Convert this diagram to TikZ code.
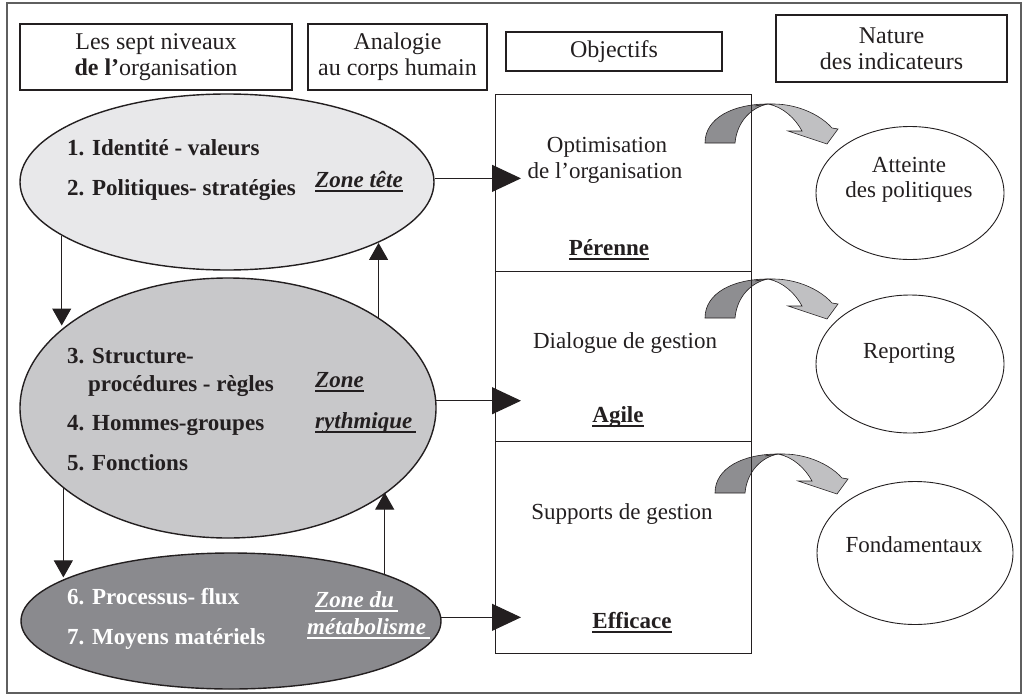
\documentclass[tikz,border=0pt]{standalone}
\usepackage{fontspec}
\setmainfont{Liberation Serif}
\usetikzlibrary{arrows.meta,shapes.geometric}

\definecolor{ink}{RGB}{35,31,32}
\definecolor{framegray}{RGB}{95,95,95}
\definecolor{lvlA}{RGB}{232,232,234}
\definecolor{lvlB}{RGB}{200,200,202}
\definecolor{lvlC}{RGB}{138,138,142}
\definecolor{arcDark}{RGB}{142,142,145}
\definecolor{arcLight}{RGB}{192,192,194}

% thick underline drawn just below the baseline
\newcommand\thickund[1]{\setbox0\hbox{#1}\leavevmode\rlap{\raisebox{-4.5pt}{\rule{\wd0}{1.8pt}}}\box0}

\tikzset{
  hdrbox/.style={draw=ink, line width=1.1pt, rectangle, inner sep=0pt, align=center,
                 font=\fontsize{24}{26}\selectfont},
  objbox/.style={draw=ink, line width=1.2pt, rectangle, inner sep=0pt, anchor=north west},
  level/.style={draw=ink, line width=1.4pt, ellipse, inner sep=0pt},
  indic/.style={draw=ink, line width=0.9pt, ellipse, inner sep=0pt, fill=white},
  lbl/.style={inner sep=0pt, anchor=base west, font=\fontsize{23}{27}\selectfont\bfseries},
  zone/.style={inner sep=0pt, anchor=base west, font=\fontsize{23}{27}\selectfont\bfseries\itshape},
  ctext/.style={inner sep=0pt, anchor=base, font=\fontsize{23}{27}\selectfont},
  varr/.style={draw=ink, line width=1pt, -{Triangle[length=17pt,width=19pt]}},
  harr/.style={draw=ink, line width=1pt, -{Triangle[length=29pt,width=27pt]}, shorten >=-26pt},
  pics/curvedarrow/.style={code={
    \filldraw[fill=arcDark, draw=ink, line width=0.6pt]
      (0,0) .. controls (0,-25) and (28,-39) .. (63,-39)
      .. controls (47,-36) and (32,-22) .. (30,0) -- cycle;
    \filldraw[fill=arcLight, draw=ink, line width=0.6pt]
      (50,-37) .. controls (80,-44) and (112,-32) .. (127,-15)
      -- (133,-14) -- (122,1) -- (83,-12) -- (97,-12)
      .. controls (90,-25) and (78,-36) .. (63,-39) -- cycle;
  }}
}

\begin{document}
\begin{tikzpicture}[x=1pt, y=-1pt, text=ink]
\useasboundingbox (0,0) rectangle (1027,696);

% outer frame
\draw[framegray, line width=1.5pt] (7,3) rectangle (1021,693);

% column headers
\node[hdrbox, minimum width=272, minimum height=66] (h1) at (156,57)
  {Les sept niveaux\\ \textbf{de l’}organisation};
\node[hdrbox, minimum width=179, minimum height=66] (h2) at (397.5,57)
  {Analogie\\ au corps humain};
\node[hdrbox, minimum width=216, minimum height=39] (h3) at (614,51.5) {Objectifs};
\node[hdrbox, minimum width=231, minimum height=67] (h4) at (891.5,48.5)
  {Nature\\ des indicateurs};

% curved arrows from objectives to indicators
\pic at (705,143) {curvedarrow};
\pic at (705,318) {curvedarrow};
\pic at (715,493) {curvedarrow};

% levels of the organisation
\node[level, fill=lvlA, minimum width=414, minimum height=176] (e1) at (227,182) {};
\node[level, fill=lvlB, minimum width=416, minimum height=260] (e2) at (228,408) {};
\node[level, fill=lvlC, minimum width=420, minimum height=136] (e3) at (231,621) {};

\node[lbl] (l1) at (67,155) {1. Identité - valeurs};
\node[lbl] (l2) at (67,195) {2. Politiques- stratégies};
\node[zone] (z1) at (315,187) {\thickund{Zone tête}};

\node[lbl] (l3) at (67,363) {3. Structure-};
\node[lbl] (l3b) at (88,391) {procédures - règles};
\node[lbl] (l4) at (67,430) {4. Hommes-groupes};
\node[lbl] (l5) at (67,470) {5. Fonctions};
\node[zone] (z2) at (315,387) {\thickund{Zone}};
\node[zone] (z2b) at (315,428) {\thickund{rythmique\,}};

\node[lbl, text=white] (l6) at (67,604) {6. Processus- flux};
\node[lbl, text=white] (l7) at (67,644) {7. Moyens matériels};
\node[zone, text=white] (z3) at (315,607) {\thickund{Zone du\,}};
\node[zone, text=white] (z3b) at (307,634) {\thickund{métabolisme\,}};

% objectives
\node[objbox, minimum width=256, minimum height=177] (bA) at (495,94) {};
\node[objbox, minimum width=256, minimum height=170] (bB) at (495,271) {};
\node[objbox, minimum width=256, minimum height=212] (bC) at (495,441) {};

\node[ctext] (oA1) at (607,152) {Optimisation};
\node[ctext] (oA2) at (605,178) {de l’organisation};
\node[ctext, font=\fontsize{23}{27}\selectfont\bfseries] (oA3) at (609,255) {\thickund{Pérenne}};
\node[ctext] (oB1) at (625,348) {Dialogue de gestion};
\node[ctext, font=\fontsize{23}{27}\selectfont\bfseries] (oB2) at (618,422) {\thickund{Agile}};
\node[ctext] (oC1) at (622,519) {Supports de gestion};
\node[ctext, font=\fontsize{23}{27}\selectfont\bfseries] (oC2) at (632,628) {\thickund{Efficace}};

% indicators
\node[indic, minimum width=188, minimum height=133] (i1) at (910,193) {};
\node[indic, minimum width=188, minimum height=138] (i2) at (910,364) {};
\node[indic, minimum width=196, minimum height=143] (i3) at (915,553) {};
\node[ctext] (t1a) at (909,172) {Atteinte};
\node[ctext] (t1b) at (909,197) {des politiques};
\node[ctext] (t2) at (909,358) {Reporting};
\node[ctext] (t3) at (914,552) {Fondamentaux};

% links between levels
\draw[varr] (e1.198) -- (e1.198 |- e2.153);
\draw[varr] (e2.206) -- (e2.206 |- e3.165);
\draw[varr] (e2.31) -- (e2.31 |- e1.338);
\draw[varr] (e3.17) -- (e3.17 |- e2.332);

% links from levels to objectives
\draw[harr] (e1.1) -- (e1.1 -| bA.west);
\draw[harr] (e2.2) -- (e2.2 -| bB.west);
\draw[harr] (e3.1) -- (e3.1 -| bC.west);
\end{tikzpicture}
\end{document}
